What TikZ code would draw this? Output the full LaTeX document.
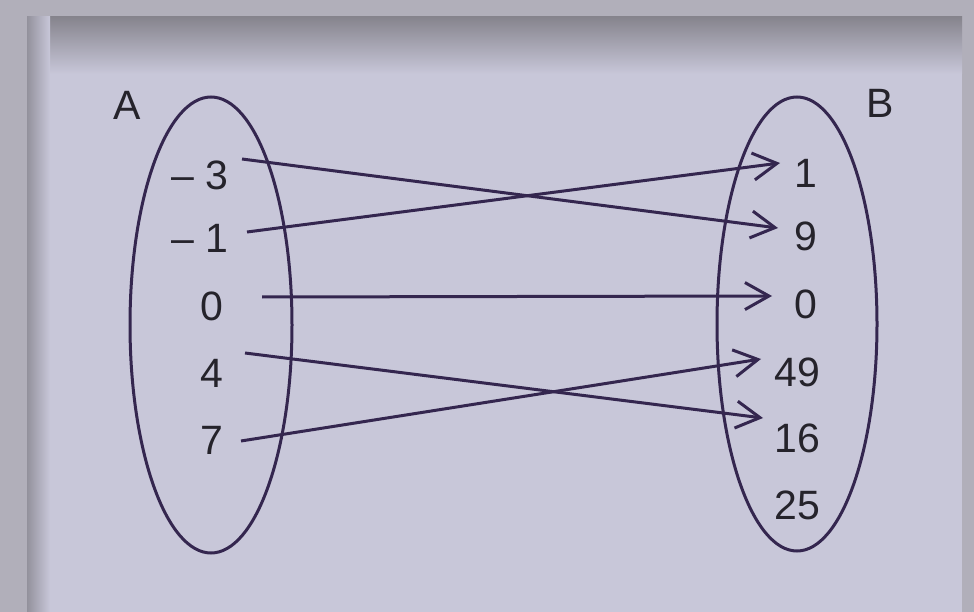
\documentclass[tikz,border=0pt]{standalone}
\usepackage{fontspec}
\setmainfont{Liberation Sans}
\usetikzlibrary{arrows.meta}
\definecolor{bgout}{HTML}{B1AFBA}
\definecolor{panel}{HTML}{C8C7D9}
\definecolor{band}{HTML}{86848D}
\definecolor{ink}{HTML}{34264F}
\definecolor{txt}{HTML}{25232B}
\tikzset{
  lbl/.style={font=\fontsize{41}{49}\selectfont, text=txt, inner sep=0pt},
  setell/.style={draw=ink, line width=3pt},
  maparrow/.style={draw=ink, line width=3pt, -{Straight Barb[length=24pt,width=27pt,line width=3pt]}}
}
\begin{document}
\begin{tikzpicture}[x=1pt,y=-1pt]
\useasboundingbox (0,0) rectangle (974,612);
% background and frame
\fill[bgout] (0,0) rectangle (974,612);
\fill[panel] (27,17) rectangle (962,612);
\shade[top color=band, bottom color=panel] (27,17) rectangle (962,74);
\shade[left color=band!80!panel, right color=panel] (27,17) rectangle (50,612);
% sets
\draw[setell] (211,325) ellipse [x radius=81, y radius=228];
\draw[setell] (797,324) ellipse [x radius=80, y radius=227];
\node[lbl] (A) at (127,105) {A};
\node[lbl] (B) at (880,103) {B};
% domain
\node[lbl] (am3) at (200,175) {– 3};
\node[lbl] (am1) at (200,238) {– 1};
\node[lbl] (a0) at (212,306) {0};
\node[lbl] (a4) at (212,373) {4};
\node[lbl] (a7) at (212,440) {7};
% codomain
\node[lbl] (b1) at (806,173) {1};
\node[lbl] (b9) at (806,236) {9};
\node[lbl] (b0) at (806,304) {0};
\node[lbl] (b49) at (797,372) {49};
\node[lbl] (b16) at (797,438) {16};
\node[lbl] (b25) at (797,505) {25};
% arrow ends
\coordinate (sm3) at (242,159);
\coordinate (sm1) at (247,232);
\coordinate (s0) at (262,297);
\coordinate (s4) at (245,353);
\coordinate (s7) at (241,441);
\coordinate (t1) at (780,163);
\coordinate (t9) at (778,228);
\coordinate (t0) at (772,296);
\coordinate (t49) at (761,359);
\coordinate (t16) at (763,418);
\draw[maparrow] (sm3) -- (t9);
\draw[maparrow] (sm1) -- (t1);
\draw[maparrow] (s0) -- (t0);
\draw[maparrow] (s4) -- (t16);
\draw[maparrow] (s7) -- (t49);
\end{tikzpicture}
\end{document}
